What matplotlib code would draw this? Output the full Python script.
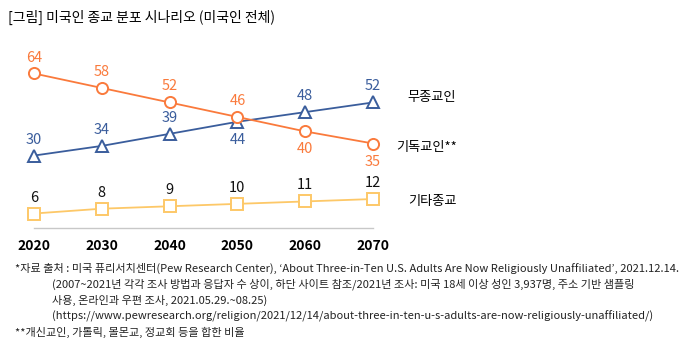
import matplotlib
matplotlib.use("Agg")
import matplotlib.pyplot as plt

plt.rcParams['font.family'] = ['Noto Sans CJK KR', 'DejaVu Sans']

years = [2020, 2030, 2040, 2050, 2060, 2070]
christian = [64, 58, 52, 46, 40, 35]
none_rel = [30, 34, 39, 44, 48, 52]
other = [6, 8, 9, 10, 11, 12]

names = ['무종교인', '기독교인**', '기타종교']
orange = '#FA7A3C'
blue = '#3A5D9C'
yellow = '#FDC868'

fig = plt.figure(figsize=(6.88, 3.52), dpi=100)
ax = fig.add_axes([34 / 688, 1 - 228 / 352, (373 - 34) / 688, 169 / 352])

ax.plot(years, christian, color=orange, lw=1.3, marker='o', ms=8,
        mfc='white', mec=orange, mew=1.4, clip_on=False, zorder=3)
ax.plot(years, none_rel, color=blue, lw=1.3, marker='^', ms=8,
        mfc='white', mec=blue, mew=1.4, clip_on=False, zorder=2)
ax.plot(years, other, color=yellow, lw=1.3, marker='s', ms=8,
        mfc='white', mec=yellow, mew=1.4, clip_on=False, zorder=2)

# value labels
up, down = 11.5, -13
for i, y in enumerate(years):
    ax.annotate(str(christian[i]), (y, christian[i]), xytext=(0, down if i >= 4 else up),
                textcoords='offset points', ha='center', va='center',
                color=orange, fontsize=10.5)
    ax.annotate(str(none_rel[i]), (y, none_rel[i]), xytext=(0, down if i == 3 else up),
                textcoords='offset points', ha='center', va='center',
                color=blue, fontsize=10.5)
    ax.annotate(str(other[i]), (y, other[i]), xytext=(0, up),
                textcoords='offset points', ha='center', va='center',
                color='#111111', fontsize=10.5)

ax.set_xlim(2020, 2070)
ax.set_ylim(0, 70)
ax.set_xticks(years)
ax.set_xticklabels([str(y) for y in years], fontsize=10, fontweight='bold')
ax.tick_params(axis='x', length=0, pad=8)
ax.set_yticks([])
for s in ['top', 'right', 'left']:
    ax.spines[s].set_visible(False)
ax.spines['bottom'].set_color('#C8C8C8')
ax.spines['bottom'].set_linewidth(1)

# series names on the right
fig.text(432 / 688, 1 - 97 / 352, names[0], ha='center', va='center', fontsize=9.5)
fig.text(427 / 688, 1 - 147 / 352, names[1], ha='center', va='center', fontsize=9.5)
fig.text(432 / 688, 1 - 201 / 352, names[2], ha='center', va='center', fontsize=9.5)

fig.text(8 / 688, 1 - 17 / 352, '[그림] 미국인 종교 분포 시나리오 (미국인 전체)',
         ha='left', va='center', fontsize=10)

notes = [
    (15, "*자료 출처 : 미국 퓨리서치센터(Pew Research Center), ‘About Three-in-Ten U.S. Adults Are Now Religiously Unaffiliated’, 2021.12.14."),
    (52, "(2007~2021년 각각 조사 방법과 응답자 수 상이, 하단 사이트 참조/2021년 조사: 미국 18세 이상 성인 3,937명, 주소 기반 샘플링"),
    (52, "사용, 온라인과 우편 조사, 2021.05.29.~08.25)"),
    (52, "(https://www.pewresearch.org/religion/2021/12/14/about-three-in-ten-u-s-adults-are-now-religiously-unaffiliated/)"),
    (15, "**개신교인, 가톨릭, 몰몬교, 정교회 등을 합한 비율"),
]
for k, (x, t) in enumerate(notes):
    fig.text(x / 688, 1 - (268 + 16 * k) / 352, t, ha='left', va='center',
             fontsize=8.0, color='#222222')

fig.savefig('out.png', dpi=100)
